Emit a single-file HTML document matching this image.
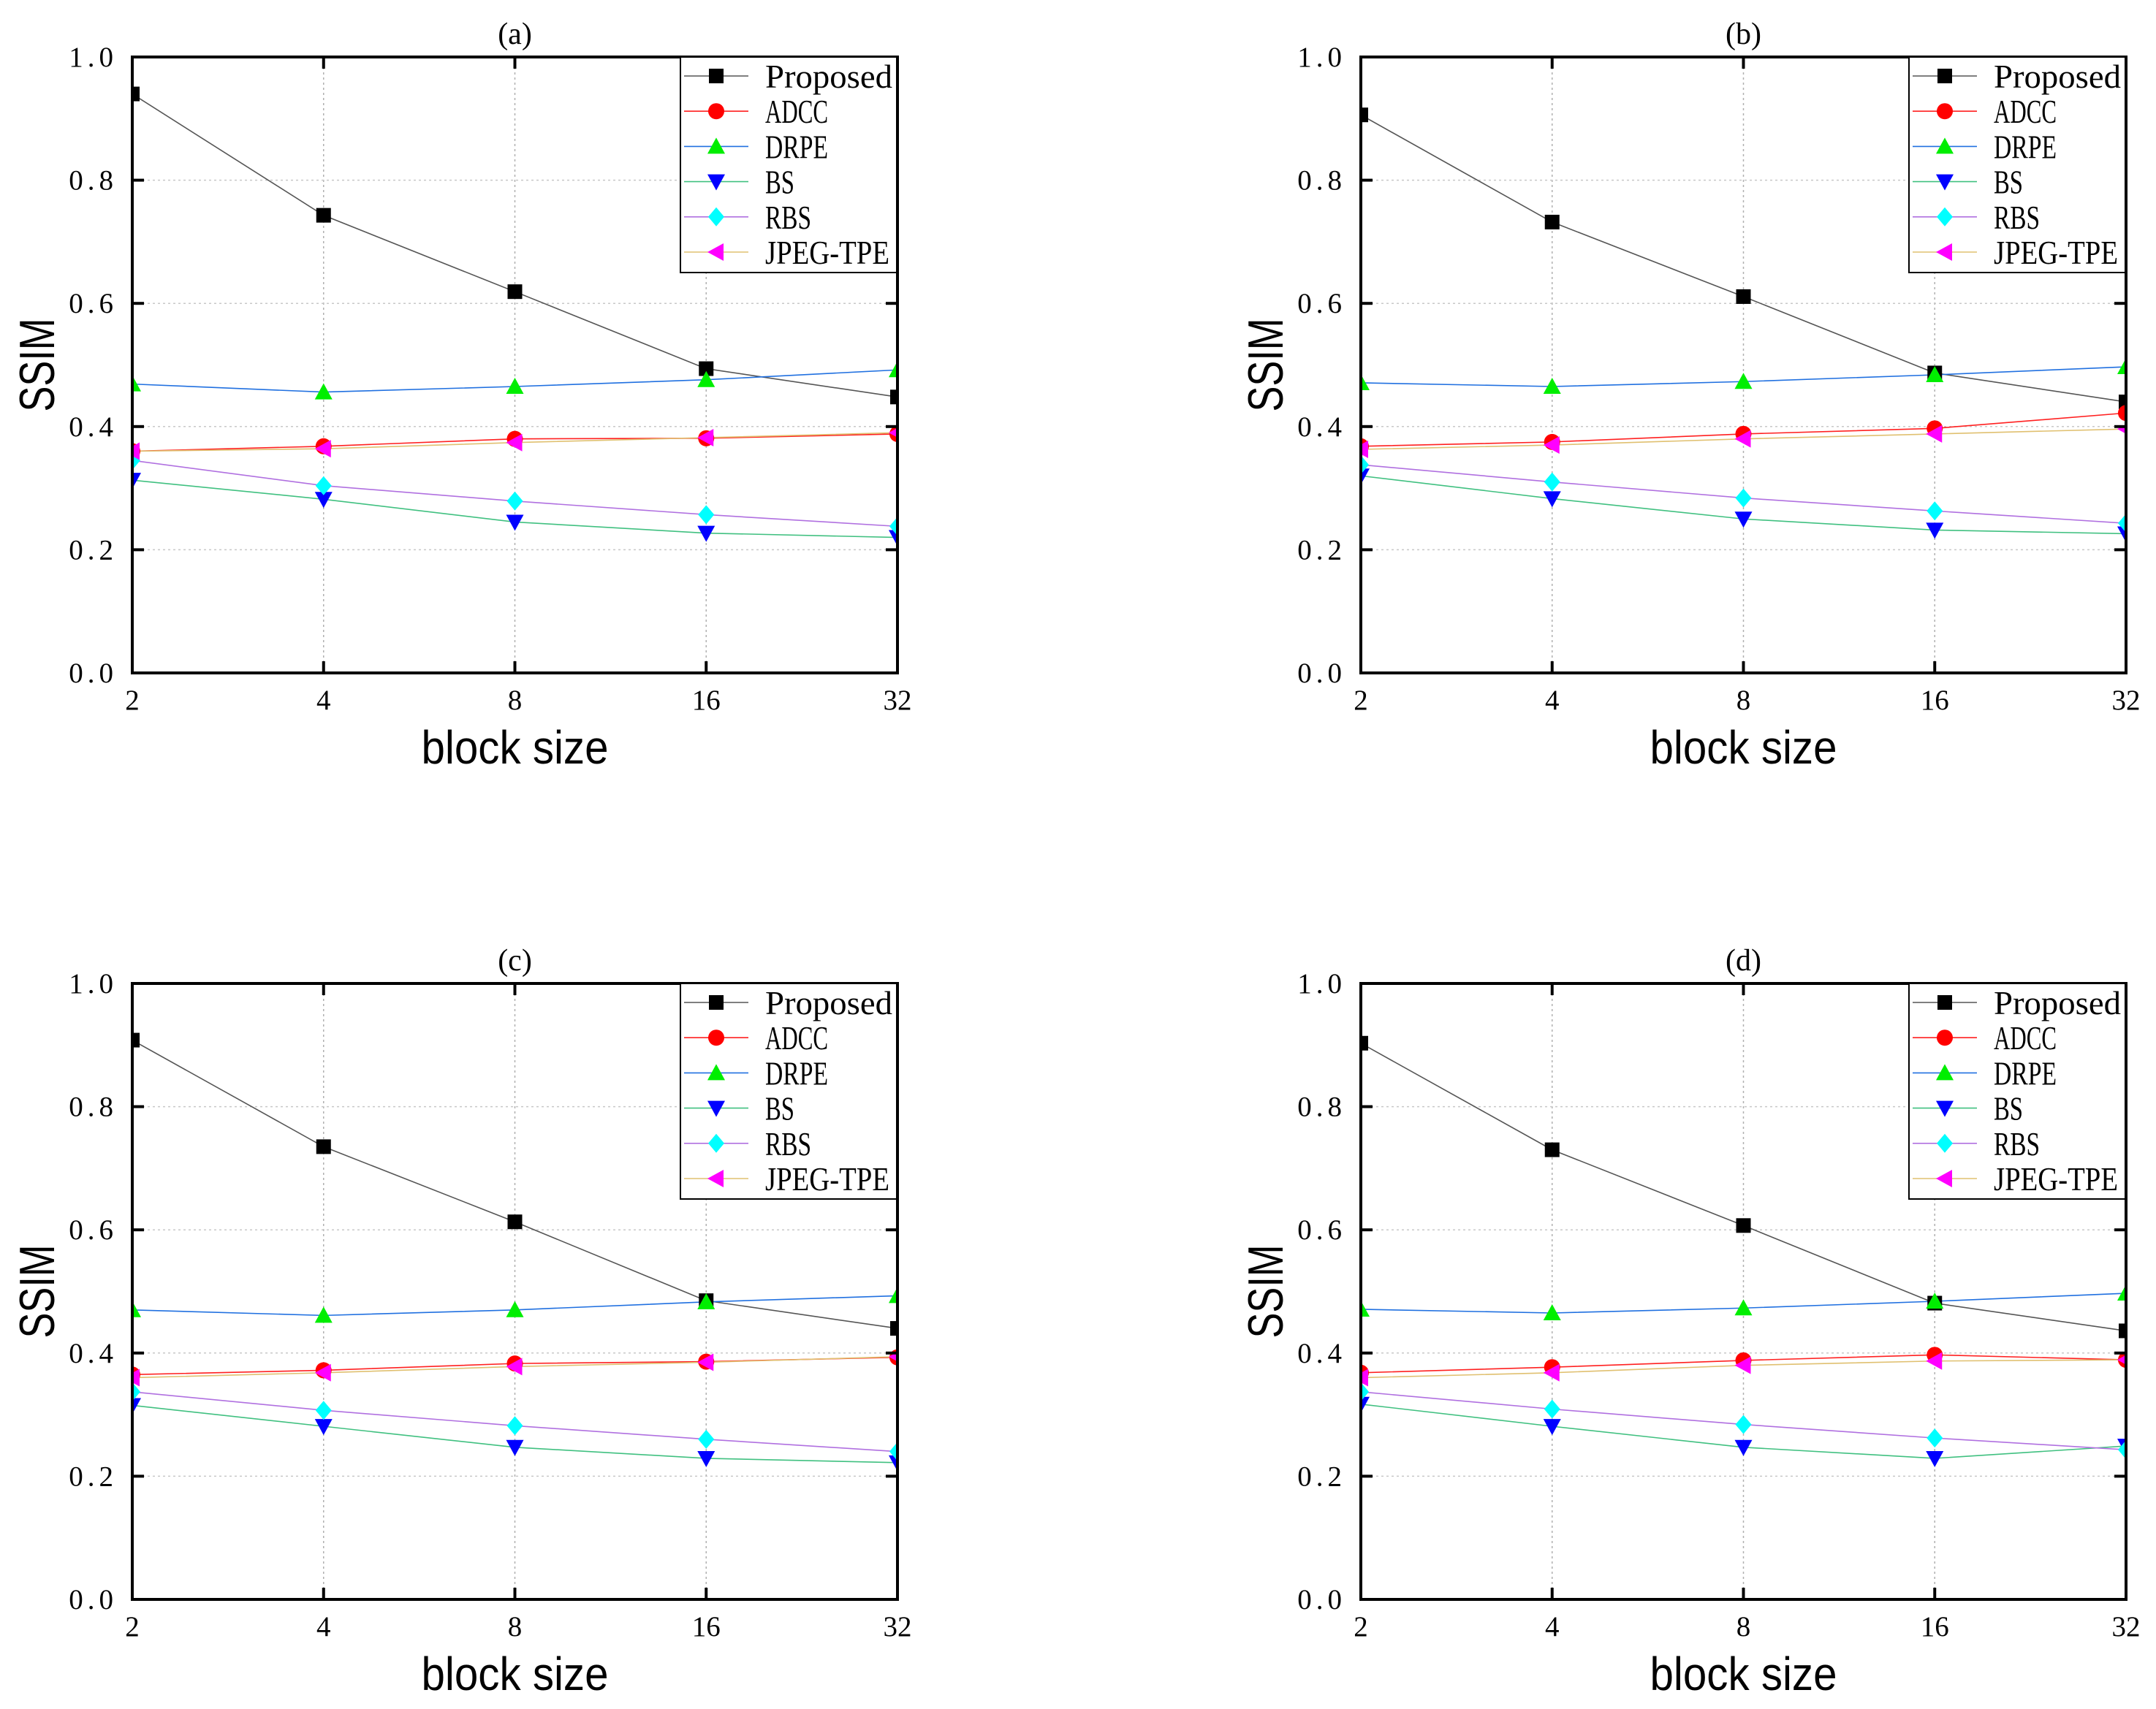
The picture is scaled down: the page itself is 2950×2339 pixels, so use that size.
<!DOCTYPE html>
<html><head><meta charset="utf-8"><style>html,body{margin:0;padding:0;background:#fff}svg{display:block}</style></head>
<body>
<svg id="fig" xmlns="http://www.w3.org/2000/svg" width="2950" height="2339" viewBox="0 0 2950 2339"></svg>
<script>
const categories = ["2","4","8","16","32"];
const yTicks = [0,0.2,0.4,0.6,0.8,1.0];
const yTickLabels = ["0.0","0.2","0.4","0.6","0.8","1.0"];
const seriesNames = ["Proposed","ADCC","DRPE","BS","RBS","JPEG-TPE"];
const panelTitles = ["(a)","(b)","(c)","(d)"];
const aProposed=[0.940,0.743,0.619,0.494,0.448];
const aADCC=[0.360,0.368,0.380,0.381,0.388];
const aDRPE=[0.469,0.456,0.465,0.476,0.492];
const aBS=[0.313,0.282,0.245,0.227,0.220];
const aRBS=[0.345,0.304,0.279,0.257,0.238];
const aJPEG=[0.360,0.364,0.374,0.382,0.390];
const bProposed=[0.906,0.732,0.611,0.487,0.440];
const bADCC=[0.368,0.375,0.388,0.397,0.422];
const bDRPE=[0.471,0.465,0.473,0.484,0.497];
const bBS=[0.320,0.283,0.250,0.232,0.226];
const bRBS=[0.338,0.310,0.284,0.263,0.243];
const bJPEG=[0.363,0.370,0.380,0.388,0.396];
const cProposed=[0.908,0.735,0.613,0.485,0.440];
const cADCC=[0.365,0.372,0.383,0.386,0.393];
const cDRPE=[0.470,0.461,0.470,0.483,0.493];
const cBS=[0.315,0.281,0.247,0.229,0.222];
const cRBS=[0.337,0.307,0.282,0.260,0.240];
const cJPEG=[0.360,0.368,0.378,0.385,0.394];
const dProposed=[0.903,0.730,0.607,0.481,0.436];
const dADCC=[0.368,0.377,0.388,0.397,0.389];
const dDRPE=[0.471,0.465,0.473,0.484,0.497];
const dBS=[0.317,0.281,0.247,0.229,0.249];
const dRBS=[0.337,0.309,0.284,0.262,0.243];
const dJPEG=[0.360,0.368,0.380,0.387,0.389];

const panelData=[[aProposed,aADCC,aDRPE,aBS,aRBS,aJPEG],[bProposed,bADCC,bDRPE,bBS,bRBS,bJPEG],[cProposed,cADCC,cDRPE,cBS,cRBS,cJPEG],[dProposed,dADCC,dDRPE,dBS,dRBS,dJPEG]];
const lineColors=["#555555","#ff2020","#2070e0","#40c080","#b070e0","#e0c070"];
const markerColors=["#000000","#ff0000","#00ee00","#0000ff","#00ffff","#ff00ff"];
const markerShapes=["square","circle","up","down","diamond","left"];
const legendWidths=[174,86,86,40,63,170];
const NS="http://www.w3.org/2000/svg";
const svg=document.getElementById('fig');
function el(tag,attrs,parent){const e=document.createElementNS(NS,tag);for(const k in attrs)e.setAttribute(k,attrs[k]);(parent||svg).appendChild(e);return e;}
function marker(shape,cx,cy,fill,g){
  const s=10;
  if(shape==="square") return el('rect',{x:cx-s,y:cy-s,width:2*s,height:2*s,fill:fill},g);
  if(shape==="circle") return el('circle',{cx:cx,cy:cy,r:s+1,fill:fill},g);
  let p;
  if(shape==="up") p=[[cx,cy-s-2],[cx+s+2,cy+s],[cx-s-2,cy+s]];
  if(shape==="down") p=[[cx,cy+s+2],[cx+s+2,cy-s],[cx-s-2,cy-s]];
  if(shape==="diamond") p=[[cx,cy-s-3],[cx+s+1,cy],[cx,cy+s+3],[cx-s-1,cy]];
  if(shape==="left") p=[[cx-s-2,cy],[cx+s,cy-s-2],[cx+s,cy+s+2]];
  return el('polygon',{points:p.map(q=>q.join(',')).join(' '),fill:fill},g);
}
const W=1047,H=843;
const offs=[[181,78],[1862,78],[181,1346],[1862,1346]];
panelData.forEach((series,pi)=>{
  const [L,T]=offs[pi];
  const R=L+W,B=T+H;
  const xs=i=>L+i*W/(categories.length-1);
  const ys=v=>B-v*H;
  const g=el('g',{});
  
  
  const cp=el('clipPath',{id:'clip'+pi},g);el('rect',{x:L,y:T,width:W,height:H},cp);
  categories.forEach((c,i)=>{if(i>0&&i<categories.length-1){const gl=el('line',{x1:xs(i),x2:xs(i),y1:T,y2:B,stroke:'#b0b0b0','stroke-width':1.5,'stroke-dasharray':'3,4'},g);}});
  yTicks.forEach(v=>{if(v>0&&v<1){const gl=el('line',{x1:L,x2:R,y1:ys(v),y2:ys(v),stroke:'#c8c8c8','stroke-width':1.5,'stroke-dasharray':'3,4'},g);}});
  const dg=el('g',{'clip-path':'url(#clip'+pi+')'},g);
  series.forEach((vals,si)=>{
    const pl=el('polyline',{points:vals.map((v,i)=>xs(i)+','+ys(v)).join(' '),fill:'none',stroke:lineColors[si],'stroke-width':1.6},dg);
    
    
  });
  series.forEach((vals,si)=>{
    vals.forEach((v,i)=>{const m=marker(markerShapes[si],xs(i),ys(v),markerColors[si],dg);
      
      });
  });
  categories.forEach((c,i)=>{
    el('line',{x1:xs(i),x2:xs(i),y1:B,y2:B-16,stroke:'#000','stroke-width':4},g);
    el('line',{x1:xs(i),x2:xs(i),y1:T,y2:T+16,stroke:'#000','stroke-width':4},g);
    const t=el('text',{x:xs(i),y:B+50,'text-anchor':'middle','font-family':'"Liberation Serif",serif','font-size':39,fill:'#000'},g);
    t.textContent=c;
    
    
  });
  yTicks.forEach((v,i)=>{
    el('line',{x1:L,x2:L+16,y1:ys(v),y2:ys(v),stroke:'#000','stroke-width':4},g);
    el('line',{x1:R,x2:R-16,y1:ys(v),y2:ys(v),stroke:'#000','stroke-width':4},g);
    const t=el('text',{x:L-20,y:ys(v)+13,'text-anchor':'end','font-family':'"Liberation Serif",serif','font-size':39,fill:'#000','letter-spacing':'6'},g);
    t.textContent=yTickLabels[i];
    
    
  });
  const fr=el('rect',{x:L,y:T,width:W,height:H,fill:'none',stroke:'#000','stroke-width':4},g);
  
  
  const tt=el('text',{x:L+W/2,y:T-18,'text-anchor':'middle','font-family':'"Liberation Serif",serif','font-size':42,fill:'#000'},g);
  tt.textContent=panelTitles[pi];
  
  
  const yl=el('text',{x:0,y:0,transform:'translate('+(L-107)+','+(T+H/2)+') rotate(-90)','text-anchor':'middle','font-family':'"Liberation Sans",sans-serif','font-size':68,fill:'#000',textLength:128,lengthAdjust:'spacingAndGlyphs'},g);
  yl.textContent='SSIM';
  
  
  const xl=el('text',{x:L+W/2,y:B+124,'text-anchor':'middle','font-family':'"Liberation Sans",sans-serif','font-size':64,fill:'#000',textLength:256,lengthAdjust:'spacingAndGlyphs'},g);
  xl.textContent='block size';
  
  
  const lg=el('g',{},g);
  
  
  el('rect',{x:L+750,y:T,width:W-750,height:295,fill:'#fff',stroke:'#000','stroke-width':2},lg);
  seriesNames.forEach((n,si)=>{
    const ry=T+26+si*48.2;
    const e=el('g',{},lg);
    
    
    el('line',{x1:L+755,x2:L+843,y1:ry,y2:ry,stroke:lineColors[si],'stroke-width':1.6},e);
    marker(markerShapes[si],L+799,ry,markerColors[si],e);
    const t=el('text',{x:L+866,y:ry+16,'font-family':'"Liberation Serif",serif','font-size':46,fill:'#000',textLength:legendWidths[si],lengthAdjust:'spacingAndGlyphs'},e);
    t.textContent=n;
  });
  el('line',{x1:R,x2:R,y1:T,y2:B,stroke:'#000','stroke-width':4},g);
});
</script>
</body></html>
